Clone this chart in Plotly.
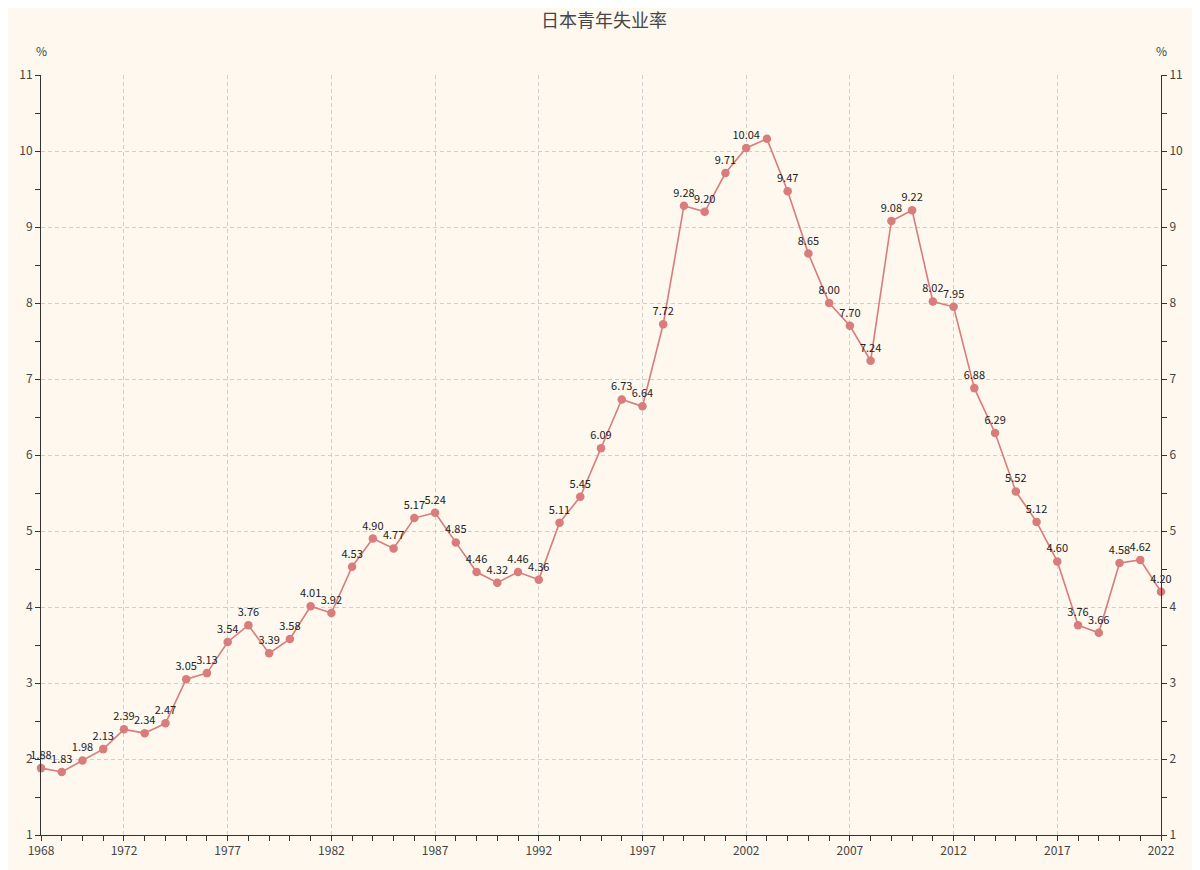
import plotly.graph_objects as go

years = list(range(1968, 2023))
rates = [
    1.88, 1.83, 1.98, 2.13, 2.39, 2.34, 2.47, 3.05, 3.13, 3.54,
    3.76, 3.39, 3.58, 4.01, 3.92, 4.53, 4.90, 4.77, 5.17, 5.24,
    4.85, 4.46, 4.32, 4.46, 4.36, 5.11, 5.45, 6.09, 6.73, 6.64,
    7.72, 9.28, 9.20, 9.71, 10.04, 10.16, 9.47, 8.65, 8.00, 7.70,
    7.24, 9.08, 9.22, 8.02, 7.95, 6.88, 6.29, 5.52, 5.12, 4.60,
    3.76, 3.66, 4.58, 4.62, 4.20,
]
# the 2003 label is hidden in the original (overlaps 10.04)
hidden_labels = [2003]
x_tick_years = [1968, 1972, 1977, 1982, 1987, 1992, 1997, 2002, 2007, 2012, 2017, 2022]

line_color = "#d87c7c"
bg = "#fef8ef"
axis_color = "#333333"
grid_color = "#cfcfcf"
tick_color = "#444444"
font_cjk = "Noto Sans CJK SC"

labels = ["" if y in hidden_labels else f"{v:.2f}" for y, v in zip(years, rates)]

fig = go.Figure()
fig.add_trace(
    go.Scatter(
        x=years,
        y=rates,
        mode="lines+markers+text",
        text=labels,
        textposition="top center",
        textfont=dict(family=font_cjk, size=11, color="#222222"),
        line=dict(color=line_color, width=1.6),
        marker=dict(color=line_color, size=8.5),
        cliponaxis=False,
        name="日本青年失业率",
    )
)
# invisible copy so the right-hand axis is drawn
fig.add_trace(
    go.Scatter(
        x=years, y=rates, yaxis="y2", mode="lines",
        line=dict(color="rgba(0,0,0,0)"), hoverinfo="skip", showlegend=False,
    )
)

yaxis_common = dict(
    range=[1, 11],
    dtick=1,
    tick0=1,
    ticks="outside",
    ticklen=5,
    tickcolor=axis_color,
    showline=True,
    linecolor=axis_color,
    linewidth=1,
    tickfont=dict(family=font_cjk, size=12, color=tick_color),
    zeroline=False,
    minor=dict(dtick=0.5, tick0=1, ticks="outside", ticklen=5, tickcolor=axis_color, showgrid=False),
)

# page has an 8px body margin, so the figure is sized to fit the 1200x870 window
W, H = 1192, 862
pct_font = dict(family=font_cjk, size=12, color=tick_color)

fig.update_layout(
    width=W,
    height=H,
    paper_bgcolor=bg,
    plot_bgcolor=bg,
    showlegend=False,
    margin=dict(l=33, r=39, t=67, b=35),
    title=dict(
        text="日本青年失业率",
        x=0.5,
        xanchor="center",
        y=1 - 13 / H,
        yanchor="middle",
        font=dict(family=font_cjk, size=18, color="#464646"),
    ),
    xaxis=dict(
        range=[1968, 2022],
        tickvals=x_tick_years,
        ticks="outside",
        ticklen=5,
        tickcolor=axis_color,
        showline=True,
        linecolor=axis_color,
        showgrid=True,
        gridcolor=grid_color,
        griddash="4px,3px",
        gridwidth=1,
        zeroline=False,
        tickfont=dict(family=font_cjk, size=12, color=tick_color),
        minor=dict(dtick=1, tick0=1968, ticks="outside", ticklen=5, tickcolor=axis_color, showgrid=False),
    ),
    yaxis=dict(
        **yaxis_common,
        showgrid=True,
        gridcolor=grid_color,
        griddash="4px,3px",
        gridwidth=1,
    ),
    yaxis2=dict(
        **yaxis_common,
        overlaying="y",
        side="right",
        showgrid=False,
    ),
    annotations=[
        dict(text="%", x=0, xref="paper", xanchor="center", y=1, yref="paper", yshift=25,
             yanchor="middle", showarrow=False, font=pct_font),
        dict(text="%", x=1, xref="paper", xanchor="center", y=1, yref="paper", yshift=25,
             yanchor="middle", showarrow=False, font=pct_font),
    ],
)

fig.write_html("out.html")
